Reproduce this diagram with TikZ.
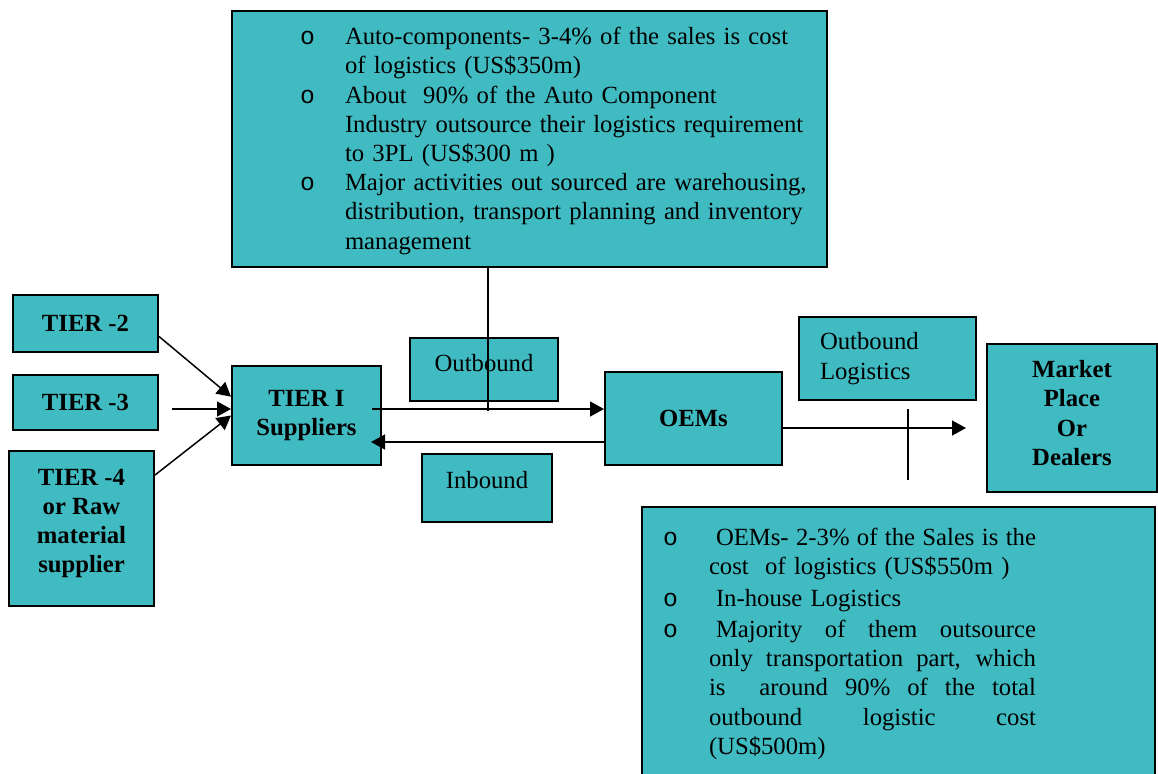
\documentclass[tikz,border=0pt]{standalone}
\usepackage{fontspec}
\setmainfont{Liberation Serif}
\newfontfamily\bulfont{Liberation Mono}
\usetikzlibrary{arrows.meta}
\definecolor{boxteal}{RGB}{64,187,194}
\newcommand{\bul}{{\bulfont o}}
\newcommand{\justline}[1]{\makebox[163.5pt][s]{\spaceskip=0pt\relax #1}}

\begin{document}
\begin{tikzpicture}[x=0.5pt, y=-0.5pt,
    box/.style={draw, line width=1pt, fill=boxteal, inner sep=0pt, font=\fontsize{12.35}{14.6}\selectfont},
    tier/.style={box, align=center, font=\fontsize{12.35}{14.6}\selectfont\bfseries},
    arrow/.style={line width=0.75pt, -{Triangle[length=7pt, width=7.5pt]}}
  ]
  \useasboundingbox (0,0) rectangle (1158,773);

  % Draw the boxes
  \node[box, minimum height=128pt, text width=229.5pt, inner xsep=34pt, align=left] (comp) at (529.5,139) {\vspace*{-2pt}\noindent
    \begin{tabular}{@{}p{22.5pt}@{}l@{}}
      \bul & Auto-components- 3-4\% of the sales is cost\\
           & of logistics (US\$350m)\\
      \bul & About\ \ 90\% of the Auto Component\\
           & Industry outsource their logistics requirement\\
           & to 3PL (US\$300 m )\\
      \bul & Major activities out sourced are warehousing,\\
           & distribution, transport planning and inventory\\
           & management
    \end{tabular}};
  \node[tier, minimum width=72.5pt, minimum height=28.5pt] (tiertwo) at (85.5,323.5) {TIER -2};
  \node[tier, minimum width=72.5pt, minimum height=27.5pt] (tierthree) at (85.5,402.5) {TIER -3};
  \node[tier, minimum width=72.5pt, minimum height=77.5pt] (tierfour) at (81.5,528.5) {TIER -4\\or Raw\\material\\supplier\\[-6.9pt]\mbox{}};
  \node[tier, minimum width=74.5pt, minimum height=49.5pt] (tierone) at (306.5,415.5) {TIER I\\Suppliers};
  \node[box, minimum width=74pt, minimum height=31.5pt, text height=8pt, text depth=6.5pt] (outlabel) at (484,369.5) {Outbound};
  \node[box, minimum width=65pt, minimum height=34pt, text height=8pt, text depth=8pt] (inlabel) at (487,488) {Inbound};
  \node[tier, minimum width=88.5pt, minimum height=46.5pt] (oems) at (693.5,418.5) {OEMs};
  \node[box, minimum height=41.5pt, text width=67.5pt, inner xsep=10.5pt, align=left] (outlog) at (887.5,358.5) {Outbound\\Logistics};
  \node[tier, minimum width=85pt, minimum height=74pt] (market) at (1072,418) {Market\\Place\\Or\\Dealers\\[-9.6pt]\mbox{}};
  \node[box, minimum height=134.5pt, text width=235.5pt, inner xsep=10.5pt, align=left] (oemcost) at (898.5,641.5) {\vspace*{-2.5pt}\noindent
    \begin{tabular}{@{}p{23pt}@{}l@{}}
      \bul & \justline{\hspace{3.5pt}OEMs- 2-3\% of the Sales is the}\\
           & cost\ \ of logistics (US\$550m )\\[1.4pt]
      \bul & \hspace{3.5pt}In-house Logistics\\[0.9pt]
      \bul & \justline{\hspace{3.5pt}Majority of them outsource}\\
           & \justline{only transportation part, which}\\
           & \justline{is\ \ around 90\% of the total}\\
           & \justline{outbound logistic cost}\\
           & (US\$500m)
    \end{tabular}};

  % Draw the arrows
  \draw[arrow] (tiertwo.-10) -- (tierone.166);
  \draw[arrow] ([xshift=6.5pt, yshift=-3.25pt]tierthree.east) -- ([yshift=3.25pt]tierone.west);
  \draw[arrow] ([yshift=26.75pt]tierfour.east) -- (tierone.west);
  \draw[arrow] ([xshift=-5pt, yshift=3.25pt]tierone.east) -- ([yshift=4.75pt]oems.west);
  \draw[arrow] ([yshift=-11.75pt]oems.west) -- ([xshift=-5.5pt, yshift=-13.25pt]tierone.east);
  \draw[line width=0.75pt] ([xshift=-20.75pt]comp.south) -- ++(0,143);
  \draw[arrow] ([xshift=-1pt, yshift=-4.75pt]oems.east) -- ([xshift=-10pt, yshift=-5pt]market.west);
  \coordinate (tick) at (908,409);
  \draw[line width=0.75pt] (tick) -- ++(0,71);

\end{tikzpicture}
\end{document}
